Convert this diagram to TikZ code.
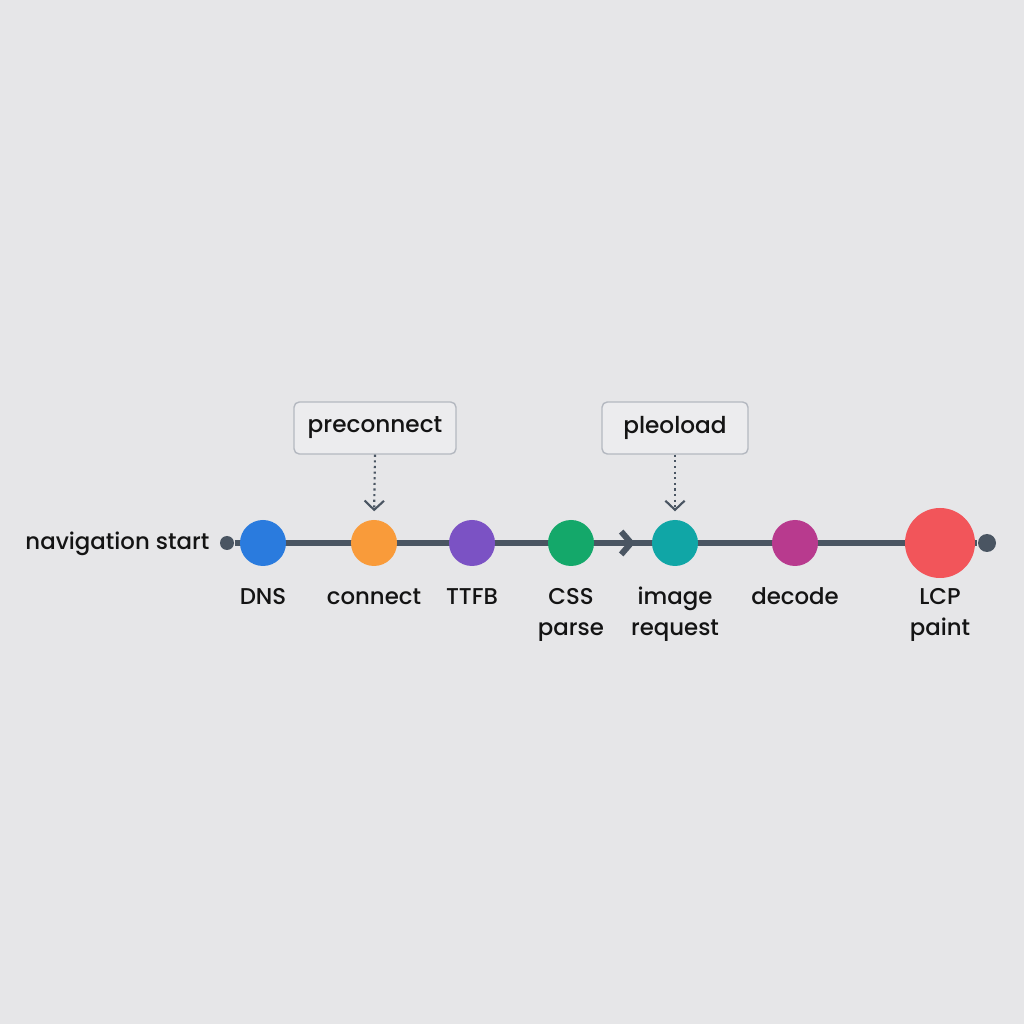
\documentclass[tikz,border=0pt]{standalone}
\usepackage{fontspec}
\setmainfont{Poppins}[UprightFont=* Medium]
\usetikzlibrary{arrows.meta, positioning, calc}
\definecolor{bgGray}{HTML}{E6E6E8}
\definecolor{trackSlate}{HTML}{4A5562}
\definecolor{boxEdge}{HTML}{B4B8C0}
\definecolor{inkBlack}{HTML}{141414}
\definecolor{dnsBlue}{HTML}{2A7BDE}
\definecolor{connOrange}{HTML}{F99B3A}
\definecolor{ttfbPurple}{HTML}{7B52C4}
\definecolor{cssGreen}{HTML}{14A86A}
\definecolor{imgTeal}{HTML}{10A6A6}
\definecolor{decMagenta}{HTML}{B83A8E}
\definecolor{lcpRed}{HTML}{F2555A}
\tikzset{
    track/.style={draw=trackSlate, line width=0.06cm},
    stage/.style={circle, minimum size=0.46cm, inner sep=0pt},
    endcap/.style={circle, fill=trackSlate, inner sep=0pt},
    stagelabel/.style={anchor=base, inner sep=0pt, align=center, text=inkBlack, font=\fontsize{6.5}{8.9}\selectfont},
    hintbox/.style={draw=boxEdge, fill=bgGray!75!white, rounded corners=1.5pt, line width=0.4pt,
        minimum width=1.62cm, minimum height=0.52cm, text=inkBlack, font=\fontsize{6.6}{8}\selectfont},
    hint/.style={trackSlate, densely dotted, line width=0.6pt, -{Straight Barb[length=2.6pt, width=5.5pt]}, shorten >=0.08cm}
}
\begin{document}
\begin{tikzpicture}
    % canvas
    \fill[bgGray] (0,0) rectangle (10.24,10.24);
    \useasboundingbox (0,0) rectangle (10.24,10.24);

    % ends of the timeline
    \node[endcap, minimum size=0.14cm] (startdot) at (2.27,4.81) {};
    \node[endcap, minimum size=0.18cm] (enddot) at (9.87,4.81) {};
    \node[stagelabel, anchor=east] (nav) at (2.10,4.80) {navigation start};
    \draw[track] (startdot) -- (enddot);

    % arrow into the image request
    \coordinate (flow) at (6.35,4.81);
    \draw[track, -{Straight Barb[length=2.8pt, width=6.5pt]}] (5.71,4.81) -- (flow);

    % stages along the line (y = baseline of the last label line)
    \foreach \name/\x/\y/\col/\lab in {dns/2.63/4.19/dnsBlue/DNS, conn/3.74/4.19/connOrange/connect,
        ttfb/4.72/4.19/ttfbPurple/TTFB, css/5.71/3.88/cssGreen/CSS\\parse,
        img/6.75/3.88/imgTeal/image\\request, dec/7.95/4.19/decMagenta/decode} {
        \node[stage, fill=\col] (\name) at (\x,4.81) {};
        \node[stagelabel] (\name-lab) at (\x,\y) {\lab};
    }
    \node[stage, fill=lcpRed, minimum size=0.70cm] (lcp) at (9.40,4.81) {};
    \node[stagelabel] (lcp-lab) at (9.40,3.88) {LCP\\paint};

    % resource hints
    \node[hintbox] (pre) at (3.75,5.96) {preconnect};
    \node[hintbox, minimum width=1.46cm] (pld) at (6.75,5.96) {pleoload};
    \draw[hint] (pre.south) -- (conn.north);
    \draw[hint] (pld.south) -- (img.north);
\end{tikzpicture}
\end{document}
